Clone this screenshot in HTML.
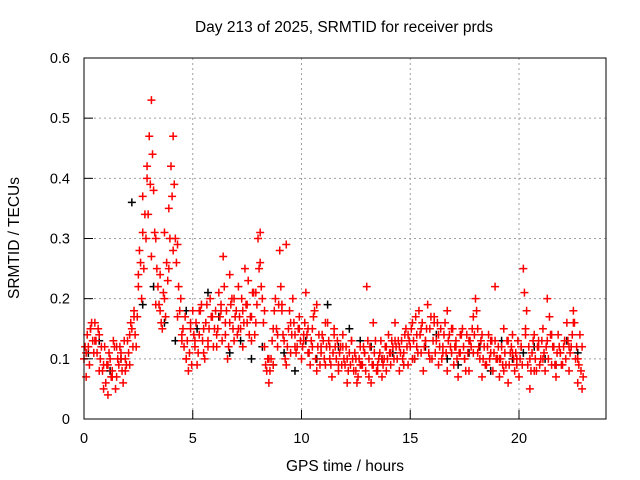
<!DOCTYPE html>
<html><head><meta charset="utf-8"><style>
body{margin:0;background:#fff;}
svg{display:block;font-family:"Liberation Sans",sans-serif;}
</style></head><body>
<svg id="chart" width="640" height="480">
<rect width="640" height="480" fill="#fff"/>
<g id="grid"></g>
<g id="pts"></g>
<rect x="84" y="58" width="522" height="361" fill="none" stroke="#000" stroke-width="1"/>
<g id="ticks"></g>
<text x="344" y="32" text-anchor="middle" font-size="15.5">Day 213 of 2025, SRMTID for receiver prds</text>
<text x="345" y="471" text-anchor="middle" font-size="15.5">GPS time / hours</text>
<text transform="translate(19,238) rotate(-90)" text-anchor="middle" font-size="15.5">SRMTID / TECUs</text>
</svg>
<script>
const xTicks=[0,5,10,15,20];
const yTicks=[0,0.1,0.2,0.3,0.4,0.5,0.6];
const yTickLabels=["0","0.1","0.2","0.3","0.4","0.5","0.6"];
const seriesA=[0.10,0.07,0.12,0.15,0.13,0.16,0.11,0.14,0.12,0.09,
0.06,0.04,0.10,0.08,0.12,0.07,0.09,0.11,0.06,0.10,
0.13,0.09,0.15,0.18,0.12,0.22,0.26,0.31,0.34,0.40,
0.47,0.53,0.38,0.30,0.22,0.18,0.15,0.20,0.26,0.35,
0.42,0.47,0.30,0.29,0.18,0.14,0.12,0.10,0.08,0.15,
0.18,0.12,0.09,0.14,0.19,0.11,0.16,0.13,0.20,0.17,
0.15,0.12,0.21,0.18,0.27,0.14,0.10,0.16,0.20,0.13,
0.18,0.22,0.15,0.12,0.25,0.19,0.14,0.17,0.21,0.16,
0.30,0.26,0.20,0.12,0.08,0.06,0.10,0.15,0.20,0.12,
0.28,0.18,0.13,0.09,0.15,0.11,0.20,0.14,0.12,0.17,
0.10,0.13,0.21,0.15,0.09,0.12,0.18,0.08,0.14,0.11,
0.13,0.09,0.16,0.12,0.07,0.15,0.10,0.08,0.12,0.14,
0.09,0.06,0.11,0.13,0.08,0.10,0.07,0.12,0.09,0.11,
0.22,0.10,0.06,0.09,0.13,0.08,0.11,0.07,0.10,0.12,
0.14,0.09,0.12,0.16,0.10,0.08,0.13,0.11,0.15,0.09,
0.12,0.16,0.10,0.14,0.18,0.11,0.08,0.13,0.19,0.15,
0.10,0.17,0.13,0.09,0.15,0.12,0.16,0.08,0.14,0.11,
0.09,0.13,0.07,0.11,0.15,0.10,0.14,0.08,0.12,0.17,
0.20,0.15,0.10,0.07,0.12,0.09,0.14,0.11,0.08,0.13,
0.10,0.07,0.12,0.15,0.09,0.06,0.11,0.14,0.08,0.10,
0.07,0.12,0.25,0.15,0.09,0.05,0.11,0.14,0.08,0.12,
0.10,0.15,0.08,0.13,0.17,0.09,0.12,0.07,0.14,0.11,
0.09,0.13,0.16,0.08,0.12,0.18,0.10,0.06,0.14,0.05];
const seriesB=[0.12,0.14,0.09,0.16,0.11,0.13,0.15,0.10,0.08,0.12,
0.09,0.11,0.07,0.13,0.05,0.10,0.12,0.08,0.13,0.09,
0.11,0.16,0.12,0.14,0.17,0.28,0.20,0.25,0.30,0.34,
0.39,0.44,0.31,0.25,0.19,0.16,0.21,0.17,0.23,0.30,
0.37,0.39,0.26,0.22,0.20,0.15,0.17,0.13,0.11,0.09,
0.14,0.16,0.11,0.18,0.13,0.10,0.19,0.15,0.17,0.12,
0.18,0.15,0.17,0.13,0.22,0.18,0.12,0.19,0.15,0.17,
0.14,0.17,0.20,0.16,0.19,0.23,0.17,0.21,0.14,0.19,
0.25,0.22,0.16,0.09,0.10,0.08,0.13,0.18,0.15,0.19,
0.22,0.14,0.10,0.12,0.18,0.14,0.16,0.11,0.15,0.13,
0.12,0.16,0.14,0.11,0.13,0.17,0.10,0.12,0.09,0.14,
0.10,0.12,0.13,0.09,0.11,0.12,0.13,0.11,0.09,0.10,
0.12,0.08,0.09,0.10,0.11,0.06,0.10,0.09,0.12,0.08,
0.13,0.12,0.09,0.11,0.08,0.10,0.13,0.09,0.12,0.10,
0.11,0.13,0.10,0.12,0.13,0.11,0.10,0.14,0.12,0.13,
0.15,0.13,0.17,0.11,0.14,0.16,0.12,0.15,0.11,0.17,
0.13,0.11,0.16,0.12,0.10,0.14,0.11,0.13,0.12,0.15,
0.12,0.10,0.11,0.14,0.12,0.08,0.11,0.13,0.15,0.14,
0.18,0.12,0.13,0.10,0.09,0.12,0.10,0.13,0.11,0.10,
0.12,0.10,0.09,0.11,0.13,0.09,0.12,0.10,0.11,0.13,
0.10,0.09,0.21,0.18,0.12,0.08,0.13,0.10,0.12,0.09,
0.13,0.11,0.12,0.10,0.14,0.12,0.09,0.11,0.12,0.09,
0.12,0.10,0.13,0.11,0.14,0.16,0.12,0.09,0.08,0.07];
const seriesC=[0.11,0.15,0.13,0.08,0.05,0.09,0.07,0.12,0.10,0.08,
0.14,0.17,0.24,0.37,0.42,0.27,0.19,0.24,0.31,0.25,
0.28,0.17,0.13,0.10,0.16,0.13,0.18,0.15,0.12,0.17,
0.14,0.19,0.16,0.24,0.20,0.15,0.18,0.16,0.13,0.21,
0.31,0.18,0.10,0.09,0.14,0.19,0.29,0.16,0.12,0.15,
0.14,0.11,0.15,0.19,0.12,0.16,0.10,0.14,0.09,0.12,
0.10,0.13,0.08,0.09,0.11,0.07,0.16,0.09,0.10,0.08,
0.11,0.13,0.12,0.09,0.14,0.10,0.12,0.15,0.13,0.10,
0.16,0.14,0.11,0.18,0.15,0.12,0.14,0.10,0.13,0.11,
0.11,0.14,0.09,0.13,0.22,0.10,0.08,0.13,0.11,0.09,
0.12,0.14,0.10,0.08,0.13,0.10,0.20,0.14,0.09,0.11,
0.13,0.12,0.16,0.10,0.12];
const seriesBlack=[0.11,0.13,0.08,0.10,0.36,0.19,0.22,0.16,0.13,0.18,0.15,0.21,0.17,0.11,0.13,0.10,0.12,0.09,0.11,0.08,0.13,0.10,0.19,0.12,0.15,0.13,0.12,0.10,0.11,0.09,0.10,0.12,0.14,0.10,0.09,0.11,0.12,0.08,0.13,0.10,0.11,0.12,0.10,0.09,0.13,0.11];
const sx=t=>84+t*(522/24);
const sy=v=>419-v*(361/0.6);
const NS='http://www.w3.org/2000/svg';
const grid=document.getElementById('grid'),ticks=document.getElementById('ticks'),pts=document.getElementById('pts');
function mk(tag,attrs,parent){const e=document.createElementNS(NS,tag);for(const k in attrs)e.setAttribute(k,attrs[k]);parent.appendChild(e);return e;}
xTicks.forEach(t=>{const x=sx(t);
 if(t>0){const g=mk('line',{x1:x,x2:x,y1:58,y2:419,stroke:'#a0a0a0','stroke-dasharray':'2,3'},grid);
 
 }
 const l=mk('line',{x1:x,x2:x,y1:419,y2:410,stroke:'#000'},ticks);
 
 
 const tx=mk('text',{x:x,y:443,'text-anchor':'middle','font-size':'14.5'},ticks);tx.textContent=t;
 
 
});
yTicks.forEach((v,i)=>{const y=sy(v);
 if(i>0&&i<yTicks.length-1){const g=mk('line',{x1:84,x2:606,y1:y,y2:y,stroke:'#a0a0a0','stroke-dasharray':'2,3'},grid);
 
 }
 const l=mk('line',{x1:84,x2:93,y1:y,y2:y,stroke:'#000'},ticks);
 
 
 const tx=mk('text',{x:70,y:y+5,'text-anchor':'end','font-size':'14.5'},ticks);tx.textContent=yTickLabels[i];
 
 
});
function plus(t,v,color,name){const x=sx(t),y=sy(v);
 const p=mk('path',{d:`M${x-4},${y}h8M${x},${y-4}v8`,stroke:color,'stroke-width':'1.5',fill:'none'},pts);
 
 }
seriesBlack.forEach((v,i)=>plus(i*0.5+0.2,v,'#000','black-point'));
seriesA.forEach((v,i)=>plus(i*0.1,v,'#f00','red-point'));
seriesB.forEach((v,i)=>plus(i*0.1+0.05,v,'#f00','red-point'));
seriesC.forEach((v,i)=>plus(i*0.2+0.1,v,'#f00','red-point'));
</script>
</body></html>
